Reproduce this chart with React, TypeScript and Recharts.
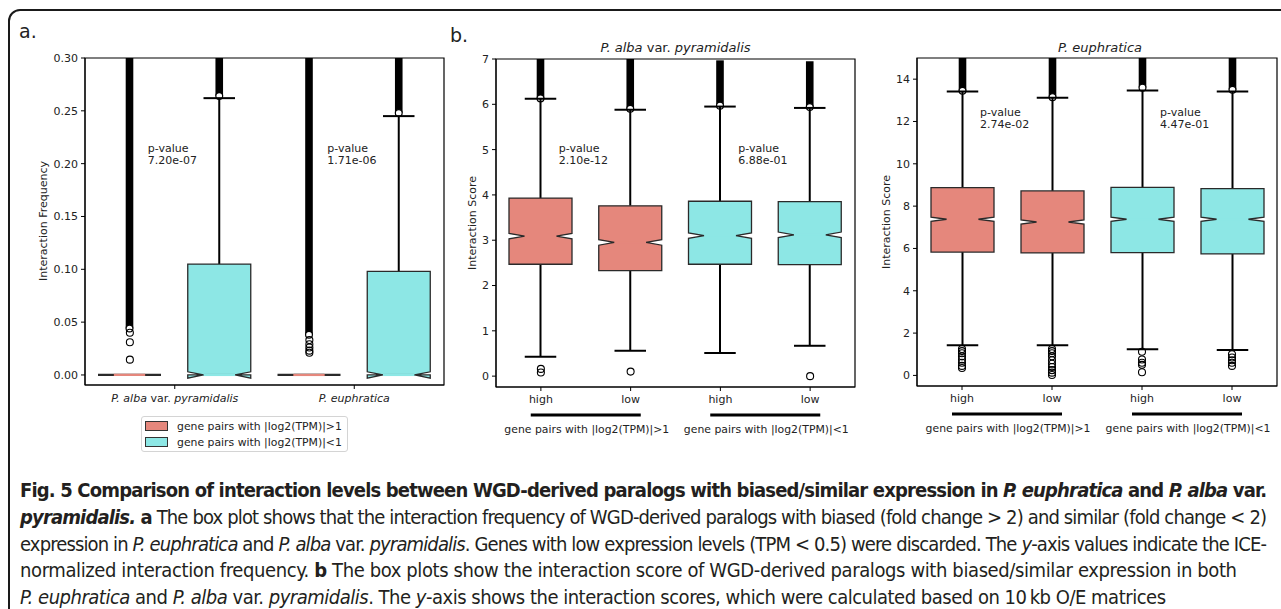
import React from "react";
import {
  ComposedChart,
  Bar,
  Scatter,
  XAxis,
  YAxis,
  ReferenceArea,
  ReferenceDot,
} from "recharts";

const SALMON = "#e5877c";
const CYAN = "#8de7e5";
const FONT = '"DejaVu Sans", sans-serif';
const INK = "#222";

// ---- panel a: interaction frequency ----
const A_POS = [0.5, 1.5, 2.5, 3.5];
const A_FILL = [SALMON, CYAN, SALMON, CYAN];
const A_Q1 = [0, 0, 0, 0];
const A_MED = [0, 0, 0, 0];
const A_Q3 = [0, 0.105, 0, 0.098];
const A_LO = [0, 0, 0, 0];
const A_HI = [0, 0.262, 0, 0.245];
const A_NOTCH = [0, 0.003, 0, 0.003];
const A_DENSE_LO = [0.044, 0.264, 0.038, 0.248];
const A_DENSE_HI = [0.3, 0.3, 0.3, 0.3];
const A_FLIERS = [[0.0145, 0.031, 0.04], [], [0.021, 0.023, 0.026, 0.029, 0.033], []];
const A_YDOMAIN = [-0.0095, 0.3];
const A_YTICKS = [0, 0.05, 0.1, 0.15, 0.2, 0.25, 0.3];
const A_CATEGORIES = ["P. alba var. pyramidalis", "P. euphratica"];
const A_CAT_POS = [1, 3];
const A_PVALS = ["7.20e-07", "1.71e-06"];
const A_PVAL_Y = 0.215;

// ---- panel b: shared categories ----
const B_POS = [0.5, 1.5, 2.5, 3.5];
const B_FILL = [SALMON, SALMON, CYAN, CYAN];
const B_TICKS = ["high", "low", "high", "low"];
const B_GROUPS = ["gene pairs with |log2(TPM)|>1", "gene pairs with |log2(TPM)|<1"];
const B_GROUP_POS = [1, 3];
const PVAL_X = [0.7, 2.7];

// ---- panel b: P. alba var. pyramidalis ----
const B1_Q1 = [2.47, 2.33, 2.47, 2.46];
const B1_MED = [3.09, 2.95, 3.1, 3.12];
const B1_Q3 = [3.93, 3.76, 3.86, 3.85];
const B1_LO = [0.43, 0.56, 0.51, 0.67];
const B1_HI = [6.12, 5.88, 5.95, 5.92];
const B1_NOTCH = [0.06, 0.06, 0.06, 0.06];
const B1_DENSE_LO = [6.13, 5.9, 5.97, 5.94];
const B1_DENSE_HI = [7, 7, 6.97, 6.95];
const B1_FLIERS = [[0.08, 0.16], [0.1], [], [0]];
const B1_YDOMAIN = [-0.24, 7];
const B1_YTICKS = [0, 1, 2, 3, 4, 5, 6, 7];
const B1_PVALS = ["2.10e-12", "6.88e-01"];
const B1_PVAL_Y = 5.04;

// ---- panel b: P. euphratica ----
const B2_Q1 = [5.83, 5.79, 5.8, 5.74];
const B2_MED = [7.38, 7.25, 7.38, 7.38];
const B2_Q3 = [8.87, 8.72, 8.89, 8.83];
const B2_LO = [1.43, 1.43, 1.24, 1.2];
const B2_HI = [13.42, 13.12, 13.46, 13.42];
const B2_NOTCH = [0.1, 0.1, 0.1, 0.1];
const B2_DENSE_LO = [13.45, 13.15, 13.6, 13.5];
const B2_DENSE_HI = [15, 15, 15, 15];
const B2_FLIERS = [
  [1.25, 1.15, 1.05, 0.9, 0.75, 0.6, 0.45, 0.35],
  [1.25, 1.15, 1.05, 0.9, 0.72, 0.55, 0.4, 0.25, 0.13, 0.02],
  [1.12, 0.75, 0.6, 0.5, 0.15],
  [1.0, 0.85, 0.72, 0.6, 0.45],
];
const B2_YDOMAIN = [-0.5, 15];
const B2_YTICKS = [0, 2, 4, 6, 8, 10, 12, 14];
const B2_PVALS = ["2.74e-02", "4.47e-01"];
const B2_PVAL_Y = 12.44;

const LEGEND_LABELS = ["gene pairs with |log2(TPM)|>1", "gene pairs with |log2(TPM)|<1"];
const LEGEND_COLORS = [SALMON, CYAN];

// caption, split into styled runs: r regular, b bold, i italic
const CAPTION: [string, string][][] = [
  [
    ["Fig. 5 Comparison of interaction levels between WGD-derived paralogs with biased/similar expression in ", "b"],
    ["P. euphratica", "bi"],
    [" and ", "b"],
    ["P. alba", "bi"],
    [" var.", "b"],
  ],
  [
    ["pyramidalis.", "bi"],
    [" a", "b"],
    [" The box plot shows that the interaction frequency of WGD-derived paralogs with biased (fold change > 2) and similar (fold change < 2)", "r"],
  ],
  [
    ["expression in ", "r"],
    ["P. euphratica", "i"],
    [" and ", "r"],
    ["P. alba", "i"],
    [" var. ", "r"],
    ["pyramidalis", "i"],
    [". Genes with low expression levels (TPM < 0.5) were discarded. The ", "r"],
    ["y", "i"],
    ["-axis values indicate the ICE-", "r"],
  ],
  [
    ["normalized interaction frequency. ", "r"],
    ["b", "b"],
    [" The box plots show the interaction score of WGD-derived paralogs with biased/similar expression in both", "r"],
  ],
  [
    ["P. euphratica", "i"],
    [" and ", "r"],
    ["P. alba", "i"],
    [" var. ", "r"],
    ["pyramidalis", "i"],
    [". The ", "r"],
    ["y", "i"],
    ["-axis shows the interaction scores, which were calculated based on 10\u2009kb O/E matrices", "r"],
  ],
];
const CAPTION_FIT = [1247, 1247, 1247, 1217, 1146];

function buildBoxes(pos, fill, q1, med, q3, lo, hi, notch, denseLo, denseHi) {
  return pos.map((p, i) => ({
    pos: p,
    fill: fill[i],
    q1: q1[i],
    med: med[i],
    q3: q3[i],
    lo: lo[i],
    hi: hi[i],
    notch: notch[i],
    denseLo: denseLo[i],
    denseHi: denseHi[i],
  }));
}

function buildFliers(pos, fliers) {
  return pos.flatMap((p, i) => fliers[i].map((v) => ({ pos: p, v })));
}

const A_BOXES = buildBoxes(A_POS, A_FILL, A_Q1, A_MED, A_Q3, A_LO, A_HI, A_NOTCH, A_DENSE_LO, A_DENSE_HI);
const B1_BOXES = buildBoxes(B_POS, B_FILL, B1_Q1, B1_MED, B1_Q3, B1_LO, B1_HI, B1_NOTCH, B1_DENSE_LO, B1_DENSE_HI);
const B2_BOXES = buildBoxes(B_POS, B_FILL, B2_Q1, B2_MED, B2_Q3, B2_LO, B2_HI, B2_NOTCH, B2_DENSE_LO, B2_DENSE_HI);

// the bar spans [lo, denseHi]; everything else is placed on that span
function BoxShape(props: any) {
  const { x, y, width, height, payload: d } = props;
  const top = Math.min(y, y + height);
  const h = Math.abs(height);
  const py = (v: number) => top + ((d.denseHi - v) / (d.denseHi - d.lo)) * h;
  const x0 = x;
  const x1 = x + width;
  const cx = x + width / 2;
  const q = width / 4;
  const path =
    `M${x0},${py(d.q1)} L${x0},${py(d.med - d.notch)} L${x0 + q},${py(d.med)} L${x0},${py(d.med + d.notch)} ` +
    `L${x0},${py(d.q3)} L${x1},${py(d.q3)} L${x1},${py(d.med + d.notch)} L${x1 - q},${py(d.med)} ` +
    `L${x1},${py(d.med - d.notch)} L${x1},${py(d.q1)} Z`;
  return (
    <g>
      <rect x={cx - 3.8} y={py(d.denseHi)} width={7.6} height={py(d.denseLo) - py(d.denseHi)} fill="#000" />
      <circle cx={cx} cy={py(d.denseLo)} r={3.4} fill="#fff" stroke="#000" strokeWidth={1.2} />
      <line x1={cx} x2={cx} y1={py(d.q3)} y2={py(d.hi)} stroke="#000" strokeWidth={2} />
      <line x1={cx} x2={cx} y1={py(d.q1)} y2={py(d.lo)} stroke="#000" strokeWidth={2} />
      <path d={path} fill={d.fill} stroke="#2a2a2a" strokeWidth={d.q3 === d.q1 ? 2.2 : 1.3} />
      <line x1={cx - q} x2={cx + q} y1={py(d.hi)} y2={py(d.hi)} stroke="#000" strokeWidth={2} />
      <line x1={cx - q} x2={cx + q} y1={py(d.lo)} y2={py(d.lo)} stroke="#000" strokeWidth={2} />
      <line x1={x0 + q} x2={x1 - q} y1={py(d.med)} y2={py(d.med)} stroke={d.fill} strokeWidth={2.2} />
    </g>
  );
}

function FlierDot(props: any) {
  return <circle cx={props.cx} cy={props.cy} r={3.5} fill="none" stroke="#000" strokeWidth={1.1} />;
}

function pvalShape(text: string) {
  return (p: any) => (
    <text x={p.cx} y={p.cy} fontSize={11} fill={INK} fontFamily={FONT}>
      <tspan x={p.cx} dy={4}>p-value</tspan>
      <tspan x={p.cx} dy={12}>{text}</tspan>
    </text>
  );
}

function CategoryTick(props: any) {
  const { x, y, payload } = props;
  const label = A_CATEGORIES[A_CAT_POS.indexOf(payload.value)] || "";
  const words = label.split(" ");
  return (
    <text x={x} y={y} dy={8} textAnchor="middle" fontSize={11} fill={INK} fontFamily={FONT}>
      {words.map((w, i) => (
        <tspan key={i} fontStyle={w === "var." ? "normal" : "italic"}>
          {(i ? " " : "") + w}
        </tspan>
      ))}
    </text>
  );
}

function GroupTick(props: any) {
  const { x, y, payload } = props;
  const label = B_GROUPS[B_GROUP_POS.indexOf(payload.value)] || "";
  return (
    <g>
      <rect x={x - 55} y={y + 4.5} width={110} height={3} fill="#000" />
      <text x={x + 1} y={y + 24} textAnchor="middle" fontSize={10.85} fill={INK} fontFamily={FONT}>
        {label}
      </text>
    </g>
  );
}

const TICK = { fontSize: 11, fill: INK, fontFamily: FONT };

function PanelA() {
  return (
    <ComposedChart width={460} height={470} data={A_BOXES} margin={{ top: 58, right: 16, bottom: 55, left: 45 }}>
      <XAxis
        dataKey="pos"
        type="number"
        domain={[0, 4]}
        allowDataOverflow
        ticks={A_CAT_POS}
        interval={0}
        height={30}
        tickSize={4}
        tickMargin={5}
        stroke="#000"
        tick={<CategoryTick />}
      />
      <YAxis
        type="number"
        domain={A_YDOMAIN}
        ticks={A_YTICKS}
        interval={0}
        tickFormatter={(v: number) => v.toFixed(2)}
        width={40}
        tickSize={4}
        tickMargin={3}
        stroke="#000"
        tick={TICK}
      />
      <Bar dataKey={(d: any) => [d.lo, d.denseHi]} barSize={63} shape={BoxShape} isAnimationActive={false} />
      <Scatter data={buildFliers(A_POS, A_FLIERS)} dataKey="v" shape={FlierDot} isAnimationActive={false} />
      {A_PVALS.map((t, i) => (
        <ReferenceDot key={t} x={PVAL_X[i]} y={A_PVAL_Y} r={0} shape={pvalShape(t)} />
      ))}
      <ReferenceArea x1={0} x2={4} y1={A_YDOMAIN[0]} y2={A_YDOMAIN[1]} fill="none" stroke="#000" strokeWidth={1.2} />
    </ComposedChart>
  );
}

function PanelB({ boxes, fliers, domain, ticks, pvals, pvalY, width, margin }: any) {
  return (
    <ComposedChart width={width} height={470} data={boxes} margin={margin}>
      <XAxis
        dataKey="pos"
        type="number"
        domain={[0, 4]}
        allowDataOverflow
        ticks={B_POS}
        interval={0}
        height={22}
        tickSize={4}
        tickMargin={4}
        stroke="#000"
        tick={TICK}
        tickFormatter={(v: number) => B_TICKS[B_POS.indexOf(v)]}
      />
      <XAxis
        xAxisId="grp"
        dataKey="pos"
        type="number"
        domain={[0, 4]}
        allowDataOverflow
        ticks={B_GROUP_POS}
        interval={0}
        height={50}
        tickSize={0}
        tickMargin={0}
        axisLine={false}
        tickLine={false}
        tick={<GroupTick />}
      />
      <YAxis
        type="number"
        domain={domain}
        ticks={ticks}
        interval={0}
        width={30}
        tickSize={4}
        tickMargin={3}
        stroke="#000"
        tick={TICK}
      />
      <Bar dataKey={(d: any) => [d.lo, d.denseHi]} barSize={63} shape={BoxShape} isAnimationActive={false} />
      <Scatter data={buildFliers(B_POS, fliers)} dataKey="v" shape={FlierDot} isAnimationActive={false} />
      {pvals.map((t: string, i: number) => (
        <ReferenceDot key={t} x={PVAL_X[i]} y={pvalY} r={0} shape={pvalShape(t)} />
      ))}
      <ReferenceArea x1={0} x2={4} y1={domain[0]} y2={domain[1]} fill="none" stroke="#000" strokeWidth={1.2} />
    </ComposedChart>
  );
}

function runStyle(s: string) {
  return {
    fontWeight: s.includes("b") ? 700 : 400,
    fontStyle: s.includes("i") ? "italic" : "normal",
  } as any;
}

export default function App() {
  return (
    <div
      style={{
        position: "absolute",
        left: 0,
        top: 0,
        width: 1281,
        height: 609,
        background: "#fff",
        overflow: "hidden",
        fontFamily: FONT,
      }}
    >
      <div
        style={{
          position: "absolute",
          left: 8,
          top: 9,
          width: 1400,
          height: 800,
          border: "2.5px solid #1a1a1a",
          borderRadius: 12,
        }}
      />
      <div style={{ position: "absolute", left: 0, top: 0 }}>
        <PanelA />
      </div>
      <div style={{ position: "absolute", left: 440, top: 0 }}>
        <PanelB
          boxes={B1_BOXES}
          fliers={B1_FLIERS}
          domain={B1_YDOMAIN}
          ticks={B1_YTICKS}
          pvals={B1_PVALS}
          pvalY={B1_PVAL_Y}
          width={440}
          margin={{ top: 59, right: 25, bottom: 11, left: 26 }}
        />
      </div>
      <div style={{ position: "absolute", left: 870, top: 0 }}>
        <PanelB
          boxes={B2_BOXES}
          fliers={B2_FLIERS}
          domain={B2_YDOMAIN}
          ticks={B2_YTICKS}
          pvals={B2_PVALS}
          pvalY={B2_PVAL_Y}
          width={411}
          margin={{ top: 58, right: 4, bottom: 12, left: 17 }}
        />
      </div>

      {/* panel letters, axis titles */}
      <svg
        width={1281}
        height={470}
        style={{ position: "absolute", left: 0, top: 0, pointerEvents: "none" }}
        fontFamily={FONT}
        fill={INK}
      >
        <text x={19} y={38} fontSize={19}>a.</text>
        <text x={450} y={42} fontSize={19}>b.</text>
        <text transform="translate(47,221) rotate(-90)" textAnchor="middle" fontSize={11}>
          Interaction Frequency
        </text>
        <text transform="translate(476,223) rotate(-90)" textAnchor="middle" fontSize={11}>
          Interaction Score
        </text>
        <text transform="translate(890,222) rotate(-90)" textAnchor="middle" fontSize={11}>
          Interaction Score
        </text>
        <text x={675.5} y={52} textAnchor="middle" fontSize={13}>
          <tspan fontStyle="italic">P. alba</tspan> var. <tspan fontStyle="italic">pyramidalis</tspan>
        </text>
        <text x={1100} y={52} textAnchor="middle" fontSize={13} fontStyle="italic">
          P. euphratica
        </text>
      </svg>

      {/* legend of panel a */}
      <div
        style={{
          position: "absolute",
          left: 141,
          top: 416,
          width: 205,
          height: 34,
          border: "1px solid #d4d4d4",
          borderRadius: 3,
          background: "#fff",
          fontSize: 10.85,
          color: INK,
          whiteSpace: "nowrap",
        }}
      >
        {LEGEND_LABELS.map((l, i) => (
          <div key={l} style={{ position: "absolute", left: 3, top: 2 + i * 16, height: 14, display: "flex", alignItems: "center" }}>
            <span
              style={{
                display: "inline-block",
                width: 21,
                height: 8,
                background: LEGEND_COLORS[i],
                border: "1px solid #333",
                marginRight: 9,
              }}
            />
            <span>{l}</span>
          </div>
        ))}
      </div>

      {/* caption */}
      <svg width={1281} height={139} style={{ position: "absolute", left: 0, top: 470 }}>
        {CAPTION.map((runs, i) => (
          <text
            key={i}
            x={20}
            y={27 + i * 26.8}
            fontSize={20}
            fill="#231f20"
            fontFamily='"Liberation Sans Narrow", "DejaVu Sans Condensed", Roboto, sans-serif'
            textLength={CAPTION_FIT[i]}
            lengthAdjust="spacing"
            style={{ whiteSpace: "pre" }}
          >
            {runs.map(([t, s], j) => (
              <tspan key={j} style={runStyle(s)}>
                {t}
              </tspan>
            ))}
          </text>
        ))}
      </svg>
    </div>
  );
}
